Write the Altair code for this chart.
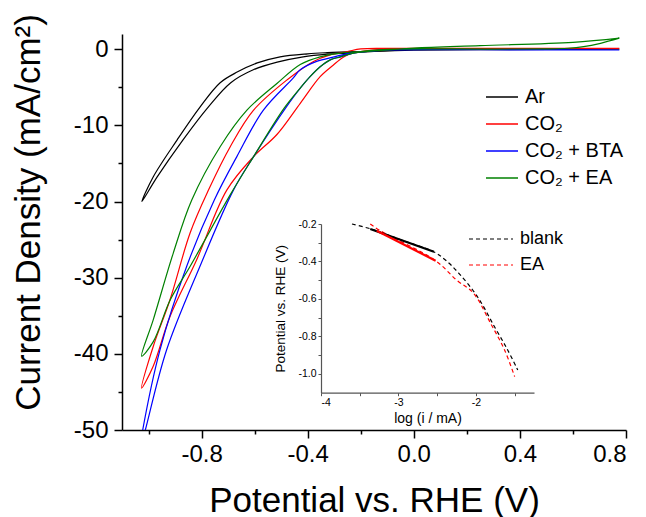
import altair as alt
import pandas as pd

FONT = "Liberation Sans"

# ---------------- main CV data (Potential V vs RHE, current density mA/cm2) ----------------
series_names = ["Ar", "CO₂", "CO₂ + BTA", "CO₂ + EA"]
series_colors = ["#000000", "#FF0000", "#0000FF", "#008000"]

ar_v = [0.775, 0.3, 0.0, -0.15, -0.25, -0.326, -0.417, -0.515, -0.605, -0.69, -0.775, -0.87,
        -0.968, -1.025, -0.983, -0.892, -0.806, -0.73, -0.666, -0.59, -0.504, -0.40, -0.326,
        -0.2, 0.0, 0.4, 0.775]
ar_j = [0.0, -0.05, -0.12, -0.3, -0.5, -0.65, -1.0, -1.7, -2.7, -4.4, -7.6, -11.9,
        -16.8, -20.0, -16.8, -11.9, -7.6, -4.4, -3.0, -1.8, -1.0, -0.6, -0.45,
        -0.3, -0.12, -0.03, 0.0]

co2_v = [0.775, 0.4, 0.0, -0.12, -0.175, -0.228, -0.266, -0.304, -0.353, -0.428, -0.516, -0.604,
         -0.705, -0.818, -0.919, -0.982, -1.026, -0.982, -0.919, -0.843, -0.774, -0.692, -0.604,
         -0.477, -0.378, -0.315, -0.25, -0.2, -0.1, 0.2, 0.775]
co2_j = [0.12, 0.1, 0.05, 0.0, -0.18, -0.45, -1.05, -2.1, -3.6, -7.1, -11.2, -14.1,
         -18.5, -27.6, -35.1, -41.6, -44.5, -39.0, -32.9, -24.1, -18.5, -12.8, -8.0,
         -4.0, -1.6, -0.75, -0.3, 0.05, 0.12, 0.1, 0.12]

bta_v = [0.775, 0.4, 0.0, -0.12, -0.175, -0.228, -0.277, -0.315, -0.353, -0.391, -0.428, -0.479,
         -0.604, -0.68, -0.806, -0.932, -1.012, -1.035, -1.022, -0.957, -0.856, -0.752, -0.667,
         -0.567, -0.455, -0.428, -0.366, -0.30, -0.24, -0.175, -0.1, 0.2, 0.775]
bta_j = [-0.1, -0.08, -0.05, -0.1, -0.3, -0.5, -1.0, -1.4, -2.3, -3.6, -5.1, -7.5,
         -14.1, -18.5, -28.5, -39.5, -50.0, -53.0, -50.0, -39.5, -28.5, -19.8, -14.1,
         -8.0, -3.8, -2.7, -1.6, -1.0, -0.5, -0.3, -0.1, -0.05, -0.1]

ea_v = [0.775, 0.6, 0.25, 0.0, -0.175, -0.228, -0.277, -0.315, -0.353, -0.391, -0.428, -0.49,
        -0.604, -0.69, -0.843, -0.918, -0.982, -1.026, -0.982, -0.907, -0.837, -0.730, -0.629,
        -0.516, -0.428, -0.353, -0.277, -0.2, -0.1, 0.3, 0.5, 0.58, 0.64, 0.704, 0.775]
ea_j = [1.45, 0.9, 0.47, 0.15, -0.3, -0.5, -1.0, -1.4, -2.3, -3.6, -5.1, -7.8,
        -14.1, -19.0, -28.5, -32.9, -38.4, -40.3, -35.5, -26.8, -19.8, -12.8, -8.0,
        -4.5, -2.0, -1.0, -0.5, -0.3, 0.0, 0.02, 0.05, 0.13, 0.34, 0.78, 1.45]

rows = []
for name, vs, js in zip(series_names, [ar_v, co2_v, bta_v, ea_v], [ar_j, co2_j, bta_j, ea_j]):
    for k, (v, j) in enumerate(zip(vs, js)):
        rows.append({"series": name, "E": v, "J": j, "k": k})
main_df = pd.DataFrame(rows)

# ---------------- inset Tafel data (log(i/mA), Potential V) ----------------
inset_names = ["blank", "EA"]
inset_colors = ["#000000", "#FF0000"]

blank_dash_x = [-3.60, -3.36, -2.95, -2.545, -2.394, -2.22, -1.98, -1.76, -1.59, -1.46]
blank_dash_y = [-0.20, -0.226, -0.287, -0.348, -0.392, -0.463, -0.588, -0.748, -0.872, -0.979]
ea_dash_x = [-3.364, -3.23, -2.52, -2.25, -2.03, -1.81, -1.63, -1.50]
ea_dash_y = [-0.200, -0.237, -0.396, -0.499, -0.57, -0.73, -0.872, -1.014]

blank_fit_x = [-3.364, -2.542]
blank_fit_y = [-0.227, -0.348]
ea_fit_x = [-3.28, -2.52]
ea_fit_y = [-0.236, -0.396]

def make_df(names, xs_list, ys_list):
    r = []
    for name, xs, ys in zip(names, xs_list, ys_list):
        for k, (x, y) in enumerate(zip(xs, ys)):
            r.append({"sample": name, "logi": x, "P": y, "k": k})
    return pd.DataFrame(r)

dash_df = make_df(inset_names, [blank_dash_x, ea_dash_x], [blank_dash_y, ea_dash_y])
fit_df = make_df(inset_names, [blank_fit_x, ea_fit_x], [blank_fit_y, ea_fit_y])

# ---------------- scales ----------------
main_x = alt.Scale(domain=[-1.1, 0.8], nice=False, zero=False)
main_y = alt.Scale(domain=[-50, 2], nice=False, zero=False)
inset_x = alt.Scale(domain=[-4, -1.25], range=[199, 412], nice=False, zero=False)
inset_y = alt.Scale(domain=[-1.1, -0.2], range=[358.7, 190], nice=False, zero=False)

minus_fix = "replace(format(datum.value, '.1f'), '\u2212', '-')"

main = alt.Chart(main_df).mark_line(strokeWidth=1.2, clip=True, interpolate="catmull-rom").encode(
    x=alt.X("E:Q", scale=main_x,
            axis=alt.Axis(orient="bottom", values=[-0.8, -0.4, 0.0, 0.4, 0.8], tickSize=8,
                          labelExpr=minus_fix, labelPadding=4, labelFontSize=24,
                          title="Potential vs. RHE (V)", titleFontSize=35, titlePadding=17)),
    y=alt.Y("J:Q", scale=main_y,
            axis=alt.Axis(orient="left", values=[0, -10, -20, -30, -40, -50], tickSize=8,
                          labelExpr="replace(format(datum.value, 'd'), '\u2212', '-')",
                          labelPadding=6, labelFontSize=24,
                          title="Current Density (mA/cm²)", titleFontSize=35, titlePadding=27,
                          titleY=178)),
    color=alt.Color("series:N", title=None,
                    scale=alt.Scale(domain=series_names, range=series_colors),
                    legend=alt.Legend(orient="none", legendX=363, legendY=46, symbolType="stroke",
                                      symbolSize=1024, symbolStrokeWidth=1.5, labelFontSize=20,
                                      labelFont=FONT, labelOffset=6, rowPadding=-5, padding=0,
                                      labelColor="#000000")),
    order="k:Q",
)

minor = alt.Chart(main_df).mark_point(opacity=0).encode(
    x=alt.X("E:Q", scale=main_x,
            axis=alt.Axis(orient="bottom", values=[-1.0, -0.6, -0.2, 0.2, 0.6], tickSize=4,
                          labels=False, domain=False, title=None)),
    y=alt.Y("J:Q", scale=main_y,
            axis=alt.Axis(orient="left", values=[-5, -15, -25, -35, -45], tickSize=4,
                          labels=False, domain=False, title=None)),
)

inset_dash = alt.Chart(dash_df).mark_line(strokeWidth=1.2, strokeDash=[4, 3], interpolate="catmull-rom").encode(
    x=alt.X("logi:Q", scale=inset_x,
            axis=alt.Axis(orient="bottom", offset=-37.3, values=[-4, -3.5, -3, -2.5, -2, -1.5],
                          labelExpr="datum.value % 1 == 0 ? replace(format(datum.value, 'd'), '\u2212', '-') : ''",
                          tickSize=3, labelFontSize=10.5, labelPadding=2,
                          domainColor="#555555", tickColor="#555555", domainWidth=1.2, tickWidth=1,
                          title="log (i / mA)", titleFontSize=14, titlePadding=3)),
    y=alt.Y("P:Q", scale=inset_y,
            axis=alt.Axis(orient="left", offset=-199, values=[-0.2, -0.3, -0.4, -0.5, -0.6, -0.7, -0.8, -0.9, -1.0],
                          labelExpr="abs(datum.value*10) % 2 < 0.01 ? replace(format(datum.value, '.1f'), '\u2212', '-') : ''",
                          tickSize=3, labelFontSize=10.5, labelPadding=2,
                          domainColor="#555555", tickColor="#555555", domainWidth=1.2, tickWidth=1,
                          title="Potential vs. RHE (V)", titleFontSize=13.5, titlePadding=10)),
    color=alt.Color("sample:N", title=None,
                    scale=alt.Scale(domain=inset_names, range=inset_colors),
                    legend=alt.Legend(orient="none", legendX=352, legendY=188,
                                      symbolType="M-1.375,0H1.375",
                                      symbolSize=1024, symbolStrokeWidth=1.2, symbolDash=[4, 3],
                                      labelFontSize=18, labelFont=FONT, labelOffset=12,
                                      rowPadding=-7, padding=0, labelColor="#000000")),
    order="k:Q",
)

inset_fit = alt.Chart(fit_df).mark_line(strokeWidth=2.2).encode(
    x=alt.X("logi:Q", scale=inset_x, axis=None),
    y=alt.Y("P:Q", scale=inset_y, axis=None),
    color=alt.Color("sample:N", scale=alt.Scale(domain=inset_names, range=inset_colors), legend=None),
    order="k:Q",
)

chart = alt.layer(main, minor, inset_dash, inset_fit).resolve_scale(
    x="independent", y="independent", color="independent"
).properties(
    width=504, height=396,
    autosize=alt.AutoSizeParams(type="none"),
    padding={"left": 122, "top": 34, "right": 20, "bottom": 87},
).configure_view(strokeWidth=0).configure_axis(
    grid=False, labelFont=FONT, titleFont=FONT, labelColor="#000000", titleColor="#000000",
    domainColor="#000000", tickColor="#000000", domainWidth=1.5, tickWidth=1.5,
    titleFontWeight="normal",
)

chart.save("out.html", embed_options={"renderer": "svg", "actions": False})
